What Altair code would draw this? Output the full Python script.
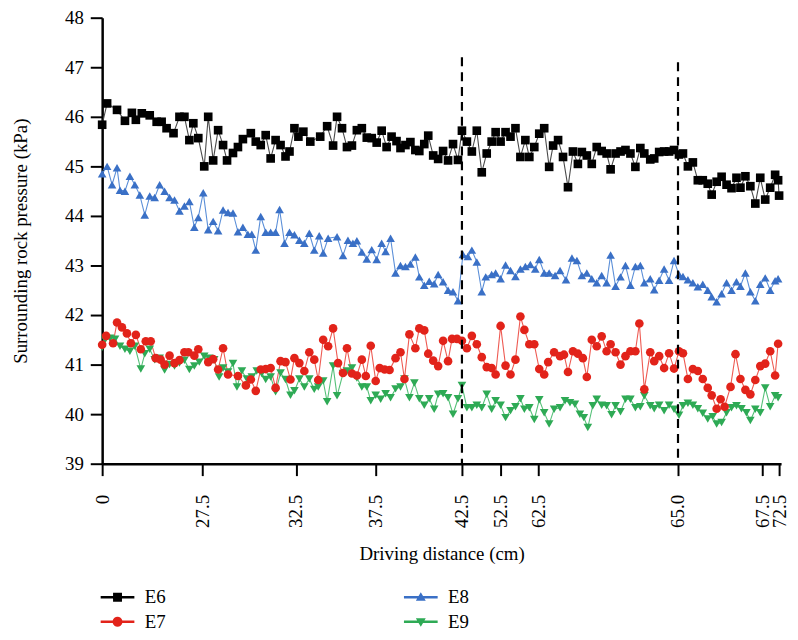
import altair as alt
import pandas as pd

FONT = "Liberation Serif"

series = ["E6", "E7", "E8", "E9"]
line_colors = ["#4a4a4a", "#ee5a52", "#5b8fd8", "#55c078"]
marker_colors = ["#000000", "#e2231a", "#3a70c6", "#2eaa55"]
marker_shapes = ["square", "circle", "triangle-up", "triangle-down"]

# x = position along the (non-linear) driving-distance axis, 0 = start, 685 = end
e6_x = [0, 5, 15, 23, 30, 34, 40, 48, 55, 60, 65, 72, 78, 83, 88, 92, 97, 103, 107, 112, 117, 122, 126, 132, 137,
        142, 150, 155, 160, 165, 170, 175, 180, 185, 189, 194, 198, 203, 210, 220,
        227, 233, 237, 242, 247, 252, 257, 262, 267, 272, 277, 282, 287, 292, 297, 301, 306, 311, 316, 320, 325,
        329, 334, 339, 344, 349, 354, 359, 363, 368, 373, 378, 383, 388, 393, 397, 402, 407, 412, 417, 422, 427,
        431, 436, 441, 446, 451, 455,
        460, 465, 470, 475, 480, 484, 489, 494, 499, 504, 509, 513, 518, 523, 528, 533, 538, 543, 547, 553, 557,
        562, 567, 572, 577, 582, 586, 591, 596, 601, 606, 611, 615, 620, 625, 630, 635, 640, 644, 649, 654, 659,
        664, 669, 674, 679, 682, 683]
e6_y = [45.84, 46.27, 46.14, 45.92, 46.08, 45.94, 46.07, 46.03, 45.9, 45.9, 45.77, 45.67, 46.0, 46.0, 45.53, 45.87,
        45.57, 45.0, 46.0, 45.12, 45.73, 45.43, 45.12, 45.27, 45.39, 45.55, 45.67, 45.5, 45.43, 45.63, 45.16, 45.53,
        45.43, 45.2, 45.3, 45.77, 45.6, 45.7, 45.5, 45.6,
        45.81, 45.42, 46.0, 45.77, 45.39, 45.42, 45.73, 45.77, 45.58, 45.57, 45.48, 45.72, 45.39, 45.6, 45.51,
        45.37, 45.43, 45.49, 45.33, 45.31, 45.45, 45.62, 45.22, 45.15, 45.31, 45.12, 45.45, 45.13, 45.72, 45.5,
        45.3, 45.72, 44.88, 45.26, 45.5, 45.69, 45.5, 45.69, 45.6, 45.77, 45.19, 45.53, 45.19, 45.39, 45.66,
        45.77, 44.99, 45.42,
        45.53, 45.19, 44.58, 45.3, 45.05, 45.29, 45.22, 45.05, 45.39, 45.31, 45.26, 44.94, 45.26, 45.3, 45.33,
        45.26, 44.99, 45.37, 45.26, 45.14, 45.16, 45.29, 45.3, 45.3, 45.33, 45.24, 45.26, 45.0, 45.08, 44.72,
        44.72, 44.65, 44.43, 44.69, 44.79, 44.63, 44.56, 44.77, 44.57, 44.8, 44.6, 44.25, 44.77, 44.33, 44.57,
        44.83, 44.72, 44.41]

e7_x = [0, 4, 11, 15, 20, 25, 29, 34, 39, 44, 49, 54, 59, 63, 68, 73, 78, 83, 87, 93, 97, 107, 112, 117, 122, 127,
        137, 145, 150, 155, 160, 165, 170, 175, 180, 185, 190, 194, 199, 204, 209, 214, 218, 223,
        228, 233, 238, 243, 247, 252, 257, 262, 266, 271, 276, 280, 285, 290, 296, 301, 305, 310, 316, 320, 325,
        329, 334, 339, 344, 349, 353, 358, 363, 368, 373, 378, 383, 388, 393, 397, 402, 407, 412, 417, 422, 426,
        431, 436, 441, 446, 450, 456,
        462, 466, 470, 475, 480, 485, 489, 494, 499, 504, 509, 513, 518, 523, 528, 533, 538, 542, 547, 553, 557,
        562, 567, 572, 577, 582, 586, 591, 596, 601, 606, 611, 615, 620, 624, 628, 634, 639, 644, 649, 654, 659,
        664, 669, 674, 679, 682]
e7_y = [41.4, 41.58, 41.43, 41.85, 41.75, 41.63, 41.43, 41.6, 41.31, 41.47, 41.47, 41.13, 41.1, 41.0, 41.18, 41.03,
        41.09, 41.25, 41.25, 41.18, 41.31, 41.05, 41.11, 40.9, 41.33, 40.8, 40.77, 40.58, 40.7, 40.47, 40.9,
        40.91, 40.93, 40.53, 41.07, 41.05, 40.7, 41.13, 41.03, 40.87, 41.25, 41.1, 40.69, 41.5,
        41.37, 41.73, 41.03, 40.83, 41.33, 40.82, 40.78, 41.1, 40.77, 41.38, 40.67, 40.93, 40.9, 40.89, 41.13,
        41.25, 40.71, 41.61, 41.33, 41.73, 41.69, 41.22, 41.08, 40.97, 41.48, 41.07, 41.52, 41.52, 41.48, 41.33,
        41.58, 41.41, 41.15, 40.95, 40.93, 40.8, 41.78, 40.98, 40.8, 41.1, 41.97, 41.7, 41.41, 41.41, 40.91,
        40.8, 41.05, 41.25,
        41.17, 41.2, 40.85, 41.27, 41.22, 41.13, 40.75, 41.5, 41.37, 41.57, 41.27, 41.41, 41.25, 41.0, 41.17,
        41.27, 41.27, 41.83, 40.5, 41.25, 41.07, 41.17, 40.93, 41.23, 40.92, 41.27, 41.23, 40.71, 40.91, 40.87,
        40.71, 40.53, 40.38, 40.11, 40.3, 40.15, 40.55, 41.21, 40.71, 40.49, 40.4, 40.69, 40.97, 41.02, 41.27,
        40.78, 41.42]

e8_x = [0, 5, 10, 15, 18, 23, 28, 33, 38, 43, 48, 53, 58, 63, 68, 73, 78, 83, 88, 93, 97, 102, 107, 112, 117, 122,
        127, 132, 137, 142, 147, 151, 155, 160, 165, 170, 175, 179, 184, 189, 194, 199, 204, 209, 214, 219, 223,
        228, 237, 243, 248, 253, 257, 262, 267, 272, 277, 282, 286, 291, 296, 301, 306, 311, 316, 320, 325, 330,
        335, 339, 344, 349, 354, 359, 364, 369, 373, 378, 383, 387, 393, 397, 402, 407, 412, 417, 422, 427, 432,
        437, 441, 446, 451, 457,
        462, 468, 474, 479, 484, 489, 494, 499, 504, 509, 513, 518, 523, 528, 533, 538, 543, 547, 553, 557, 562,
        567, 572, 577, 582, 586, 591, 596, 601, 606, 611, 615, 620, 625, 630, 635, 640, 644, 649, 654, 659, 664,
        669, 674, 679, 682]
e8_y = [44.85, 45.0, 44.63, 44.97, 44.52, 44.5, 44.8, 44.63, 44.42, 44.02, 44.4, 44.37, 44.63, 44.5, 44.37, 44.32,
        44.1, 44.2, 44.29, 43.77, 43.97, 44.47, 43.72, 43.89, 43.7, 44.12, 44.07, 44.06, 43.68, 43.77, 43.63,
        43.63, 43.31, 43.99, 43.67, 43.67, 43.67, 44.13, 43.45, 43.67, 43.62, 43.51, 43.45, 43.65, 43.31, 43.6,
        43.25,
        43.55, 43.58, 43.2, 43.51, 43.45, 43.5, 43.27, 43.13, 43.32, 43.12, 43.45, 43.28, 43.55, 42.85, 43.0,
        42.98, 43.03, 43.17, 42.77, 42.6, 42.68, 42.63, 42.82, 42.67, 42.5, 42.47, 42.29, 43.22, 43.18, 43.31,
        43.07, 42.47, 42.77, 42.82, 42.85, 42.73, 43.01, 42.9, 42.78, 42.93, 42.98, 43.02, 42.93, 43.12, 42.85,
        42.85, 42.8,
        42.9, 42.71, 43.15, 43.1, 42.8, 42.85, 42.73, 42.65, 42.8, 42.65, 43.21, 42.58, 42.77, 43.0, 42.6, 42.98,
        43.0, 42.65, 42.73, 42.51, 42.7, 42.93, 42.7, 43.1, 42.82, 42.78, 42.71, 42.65, 42.57, 42.62, 42.5,
        42.37, 42.27, 42.43, 42.65, 42.5, 42.67, 42.58, 42.85, 42.47, 42.29, 42.62, 42.75, 42.5, 42.69, 42.73]

e9_x = [0, 3, 8, 13, 18, 23, 28, 33, 39, 43, 48, 53, 58, 63, 68, 73, 78, 83, 88, 93, 98, 103, 108, 113, 118, 122,
        127, 132, 136, 141, 146, 151, 156, 161, 165, 170, 175, 180, 185, 190, 194, 199, 204, 209, 214, 218, 223,
        227,
        233, 237, 243, 247, 252, 257, 262, 267, 271, 276, 281, 286, 291, 296, 301, 305, 310, 315, 320, 325, 330,
        335, 339, 344, 349, 354, 359, 363, 368, 373, 378, 383, 388, 393, 397, 402, 407, 412, 417, 422, 426, 431,
        436, 441, 446, 451, 456,
        462, 467, 472, 477, 482, 486, 490, 495, 499, 504, 509, 514, 518, 523, 528, 533, 538, 543, 547, 553, 557,
        562, 567, 572, 577, 582, 586, 591, 596, 601, 606, 611, 616, 620, 625, 630, 635, 640, 645, 650, 654, 659,
        664, 669, 674, 679, 682]
e9_y = [41.35, 41.5, 41.53, 41.51, 41.37, 41.31, 41.27, 41.37, 40.91, 41.22, 41.31, 41.1, 41.13, 40.89, 41.0,
        40.97, 41.03, 41.09, 40.9, 40.97, 41.05, 41.17, 41.13, 41.1, 40.75, 40.93, 40.85, 41.02, 40.55, 40.87,
        40.71, 40.75, 40.87, 40.82, 40.7, 40.75, 40.45, 40.83, 40.7, 40.38, 40.47, 40.71, 40.55, 40.71, 40.5,
        40.55, 40.67, 40.25,
        40.97, 40.37, 40.82, 40.87, 40.93, 40.73, 40.55, 40.55, 40.27, 40.38, 40.3, 40.41, 40.33, 40.51, 40.55,
        40.71, 40.33, 40.63, 40.31, 40.18, 40.31, 40.1, 40.4, 40.41, 40.33, 40.0, 40.31, 40.58, 40.13, 40.13,
        40.18, 40.13, 40.4, 40.1, 40.27, 40.18, 39.93, 40.07, 40.15, 40.31, 40.1, 40.13, 39.89, 40.29, 40.03,
        39.8, 40.1,
        40.13, 40.27, 40.23, 40.2, 40.0, 39.93, 39.73, 40.17, 40.3, 40.18, 40.17, 39.99, 40.17, 40.05, 40.3,
        40.3, 40.13, 40.15, 40.37, 40.17, 40.11, 40.18, 40.07, 40.18, 40.1, 39.98, 40.17, 40.22, 40.18, 40.11,
        40.02, 39.9, 39.95, 39.8, 39.83, 40.03, 40.13, 40.17, 40.11, 40.03, 39.87, 40.1, 40.03, 40.53, 40.15,
        40.37, 40.33]

tick_pos = [0, 101, 195.5, 275.5, 363, 402, 440, 581, 666, 683]
tick_labels = ["0", "27.5", "32.5", "37.5", "42.5", "52.5", "62.5", "65.0", "67.5", "72.5"]

dash_pos = [363, 581]
dash_top = [47.2, 47.1]

# legend: custom symbols = line segment with the series marker (unit = sqrt(size)/2)
legend_colors = ["#000000", "#e2231a", "#3a70c6", "#2eaa55"]
legend_paths = [
    "M-3.4,-0.24H-0.9V-0.9H0.9V-0.24H3.4V0.24H0.9V0.9H-0.9V0.24H-3.4Z",
    "M-3.4,-0.24H-0.971A1,1 0 0,1 0.971,-0.24H3.4V0.24H0.971A1,1 0 0,1 -0.971,0.24H-3.4Z",
    "M-3.4,-0.24H-0.447L0,-1L0.447,-0.24H3.4V0.24H0.729L1,0.7H-1L-0.729,0.24H-3.4Z",
    "M-3.4,-0.24H-0.729L-1,-0.7H1L0.729,-0.24H3.4V0.24H0.447L0,1L-0.447,0.24H-3.4Z",
]

rows = []
for name, xs, ys in [("E6", e6_x, e6_y), ("E8", e8_x, e8_y), ("E9", e9_x, e9_y), ("E7", e7_x, e7_y)]:
    for x, y in zip(xs, ys):
        rows.append({"series": name, "x": x, "y": y})
df = pd.DataFrame(rows)

dash_df = pd.DataFrame({"x": dash_pos, "top": dash_top})

label_expr = ""
for p, l in zip(tick_pos, tick_labels):
    label_expr += f"datum.value == {p} ? '{l}' : "
label_expr += "''"

x_enc = alt.X(
    "x:Q",
    scale=alt.Scale(domain=[0, 685], nice=False, zero=False),
    axis=alt.Axis(
        values=tick_pos, labelExpr=label_expr, labelAngle=270, title="Driving distance (cm)",
        grid=False, tickSize=12, labelPadding=19, titlePadding=17, labelFlush=False, labelOverlap=False,
    ),
)
y_enc = alt.Y(
    "y:Q",
    scale=alt.Scale(domain=[39, 48], nice=False, zero=False),
    axis=alt.Axis(
        values=list(range(39, 49)), title="Surrounding rock pressure (kPa)", grid=False,
        tickSize=12, labelPadding=7, titlePadding=34, labelFlush=False, labelOverlap=False,
    ),
)

base = alt.Chart(df)

lines = base.mark_line(strokeWidth=1.1).encode(
    x=x_enc, y=y_enc,
    color=alt.Color("series:N", scale=alt.Scale(domain=series, range=line_colors), legend=None),
    detail="series:N",
)

points = base.mark_point(filled=True, opacity=1, size=76).encode(
    x=x_enc, y=y_enc,
    color=alt.Color("series:N", scale=alt.Scale(domain=series, range=marker_colors), legend=None),
    shape=alt.Shape("series:N", scale=alt.Scale(domain=series, range=marker_shapes), legend=None),
)

dashes = alt.Chart(dash_df).transform_calculate(base_v="39").mark_rule(
    color="black", strokeWidth=2.2, strokeDash=[9, 6]
).encode(x=alt.X("x:Q"), y=alt.Y("top:Q"), y2=alt.Y2("base_v:Q"))

leg = alt.Legend(
    title=None, orient="none", legendX=6, legendY=575, columns=2, columnPadding=239, rowPadding=5,
    labelFont=FONT, labelFontSize=19, labelColor="black", labelOffset=18, symbolSize=100,
    symbolStrokeWidth=0, symbolOpacity=1,
)
legend_layer = base.transform_filter("false").mark_point(filled=True, opacity=1, size=100).encode(
    x=x_enc, y=y_enc,
    color=alt.Color("series:N", scale=alt.Scale(domain=series, range=legend_colors), legend=leg),
    shape=alt.Shape("series:N", scale=alt.Scale(domain=series, range=legend_paths), legend=leg),
)

chart = alt.layer(lines, points, dashes, legend_layer).resolve_scale(
    color="independent", shape="independent"
).properties(
    width=685, height=450,
    padding={"left": 95, "top": 7, "right": 9, "bottom": 166},
    autosize=alt.AutoSizeParams(type="none"),
).configure_view(stroke=None).configure_axis(
    domainColor="black", domainWidth=2.5, tickColor="black", tickWidth=2,
    labelFont=FONT, labelFontSize=19, labelColor="black",
    titleFont=FONT, titleFontSize=19, titleFontWeight="normal", titleColor="black",
)

chart.save("out.html", embed_options={"renderer": "svg", "actions": False})
